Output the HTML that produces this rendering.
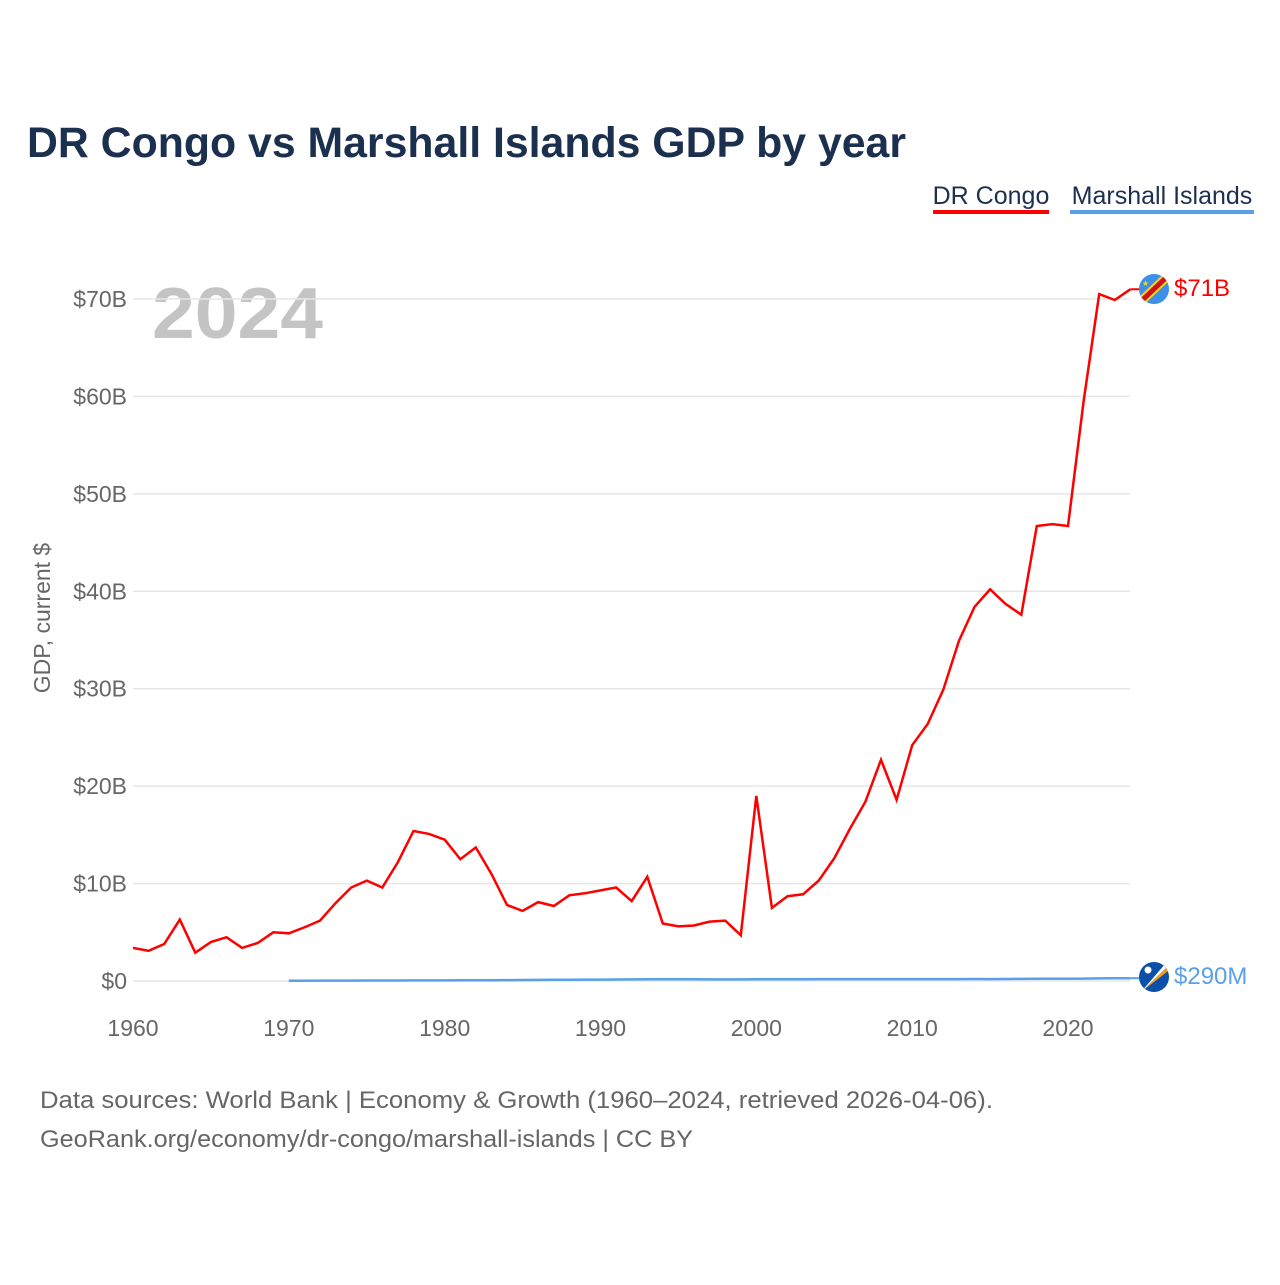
<!DOCTYPE html>
<html><head><meta charset="utf-8"><style>
body{margin:0;background:#fff;font-family:"Liberation Sans",sans-serif}
svg text{font-family:"Liberation Sans",sans-serif}
</style></head><body>
<svg width="1280" height="1280" viewBox="0 0 1280 1280">
<text x="27" y="157" font-size="43" font-weight="bold" fill="#1b2f4e" textLength="879" lengthAdjust="spacingAndGlyphs">DR Congo vs Marshall Islands GDP by year</text>
<g>
<text x="991" y="204" font-size="25" fill="#1b2f4e" text-anchor="middle">DR Congo</text>
<rect x="933" y="210" width="116" height="4" fill="#ff0000"/>
<text x="1162" y="204" font-size="25" fill="#1b2f4e" text-anchor="middle">Marshall Islands</text>
<rect x="1070" y="210" width="184" height="4" fill="#5aa0e8"/>
</g>
<text x="152" y="338" font-size="72" font-weight="bold" fill="#c4c4c4" textLength="171" lengthAdjust="spacingAndGlyphs">2024</text>
<text transform="translate(50,618) rotate(-90)" font-size="23" fill="#666" text-anchor="middle">GDP, current $</text>
<g id="grid"></g><g id="yt"></g><g id="xt"></g><g id="lines"></g>
<g>
<clipPath id="c1"><circle cx="1154" cy="289" r="15"/></clipPath>
<g clip-path="url(#c1)"><rect x="1139" y="274" width="30" height="30" fill="#3d8fe8"/>
<line x1="1136" y1="306" x2="1172" y2="272" stroke="#f7d618" stroke-width="9"/>
<line x1="1136" y1="306" x2="1172" y2="272" stroke="#ce1021" stroke-width="5"/>
<text x="1142" y="286" font-size="8" fill="#f7d618">★</text></g></g>
<text x="1174" y="296" font-size="24" fill="#ff0000">$71B</text>
<g>
<clipPath id="c2"><circle cx="1154" cy="977" r="15"/></clipPath>
<g clip-path="url(#c2)"><rect x="1139" y="962" width="30" height="30" fill="#0a4fa8"/>
<polygon points="1141,992 1172,962 1172,968" fill="#f59a1a"/>
<polygon points="1141,992 1172,956 1172,962" fill="#fff"/>
<circle cx="1148" cy="970" r="3.5" fill="#fff"/></g></g>
<text x="1174" y="984" font-size="24" fill="#5aa0e8">$290M</text>
<text x="40" y="1108" font-size="24" fill="#666" textLength="953" lengthAdjust="spacingAndGlyphs">Data sources: World Bank | Economy &amp; Growth (1960–2024, retrieved 2026-04-06).</text>
<text x="40" y="1147" font-size="24" fill="#666" textLength="653" lengthAdjust="spacingAndGlyphs">GeoRank.org/economy/dr-congo/marshall-islands | CC BY</text>
</svg>
<script>
const yTicks=[0,10,20,30,40,50,60,70];
const yTickLabels=["$0","$10B","$20B","$30B","$40B","$50B","$60B","$70B"];
const xTicks=[1960,1970,1980,1990,2000,2010,2020];
const congoStart=1960;
const congoValues=[3.4,3.1,3.8,6.3,2.9,4.0,4.5,3.4,3.9,5.0,4.9,5.5,6.2,8.0,9.6,10.3,9.6,12.2,15.4,15.1,14.5,12.5,13.7,11.0,7.8,7.2,8.1,7.7,8.8,9.0,9.3,9.6,8.2,10.7,5.9,5.6,5.7,6.1,6.2,4.7,19.0,7.5,8.7,8.9,10.3,12.6,15.6,18.4,22.7,18.6,24.2,26.4,29.9,34.9,38.4,40.2,38.7,37.6,46.7,46.9,46.7,59.5,70.5,69.9,71.0];
const marshallStart=1970;
const marshallValues=[0.03,0.03,0.04,0.04,0.04,0.05,0.05,0.05,0.06,0.06,0.06,0.07,0.08,0.08,0.09,0.1,0.11,0.12,0.13,0.14,0.14,0.15,0.16,0.17,0.18,0.18,0.17,0.16,0.16,0.16,0.17,0.17,0.18,0.18,0.19,0.19,0.2,0.2,0.2,0.19,0.19,0.19,0.2,0.2,0.21,0.2,0.21,0.22,0.23,0.24,0.24,0.25,0.27,0.28,0.29];
const NS="http://www.w3.org/2000/svg";
const xS=y=>133+(y-1960)*(935/60);
const yS=v=>981-v*(682/70);
function mk(tag,attrs,parent){const e=document.createElementNS(NS,tag);for(const k in attrs)e.setAttribute(k,attrs[k]);document.getElementById(parent).appendChild(e);return e;}
yTicks.forEach((v,i)=>{
 const g=mk('line',{x1:133,x2:1130,y1:yS(v),y2:yS(v),stroke:'#e6e6e6','stroke-width':1.5},'grid');
 
 
 const t=mk('text',{x:127,y:yS(v)+8,'font-size':23,fill:'#666','text-anchor':'end'},'yt');
 t.textContent=yTickLabels[i];
 
 
});
xTicks.forEach(y=>{
 const t=mk('text',{x:xS(y),y:1036,'font-size':23,fill:'#666','text-anchor':'middle'},'xt');
 t.textContent=y;
 
 
});
function pts(start,vals){return vals.map((v,i)=>xS(start+i).toFixed(1)+','+yS(v).toFixed(1)).join(' ');}
const m=mk('polyline',{points:pts(marshallStart,marshallValues),fill:'none',stroke:'#5aa0e8','stroke-width':2.5},'lines');


const c=mk('polyline',{points:pts(congoStart,congoValues),fill:'none',stroke:'#ff0000','stroke-width':2.5,'stroke-linejoin':'miter'},'lines');


const c2=mk('line',{x1:xS(2024),x2:1140,y1:yS(congoValues[congoValues.length-1]),y2:yS(congoValues[congoValues.length-1]),stroke:'#ff0000','stroke-width':2},'lines');


const m2=mk('line',{x1:xS(2024),x2:1140,y1:yS(marshallValues[marshallValues.length-1]),y2:yS(marshallValues[marshallValues.length-1]),stroke:'#5aa0e8','stroke-width':2},'lines');


</script>
</body></html>
